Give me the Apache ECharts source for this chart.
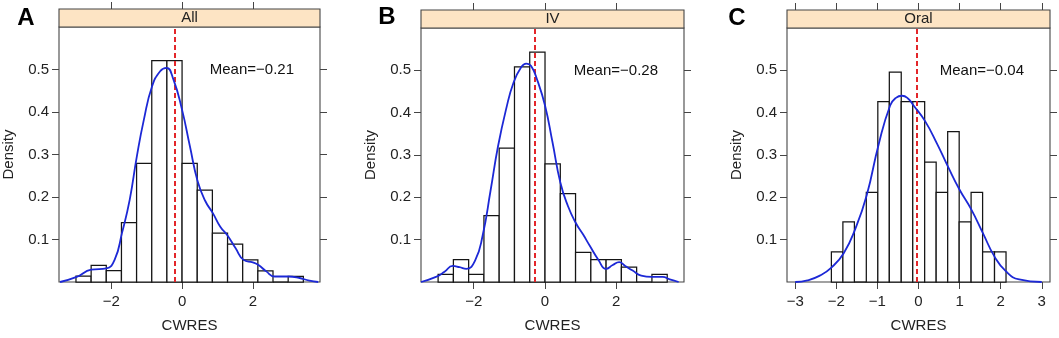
<!DOCTYPE html>
<html>
<head>
<meta charset="utf-8">
<script src="https://cdn.jsdelivr.net/npm/echarts@6/dist/echarts.min.js"></script>
<style>
html, body { margin: 0; padding: 0; background: #fff; }
#chart { width: 1059px; height: 338px; }
</style>
</head>
<body>
<div id="chart"></div>
<script>
// ---- data ----
const panelLetters = ['A', 'B', 'C']
const stripLabels = ['All', 'IV', 'Oral']
const means = [-0.21, -0.28, -0.04]

// histogram breaks (All and IV share the same breaks)
const edgesAllIV = [-3.0, -2.571, -2.143, -1.714, -1.286, -0.857, -0.429, 0, 0.429, 0.857, 1.286, 1.714, 2.143, 2.571, 3.0, 3.429]
const edgesOral = [-2.12, -1.84, -1.56, -1.27, -0.99, -0.71, -0.42, -0.14, 0.15, 0.43, 0.71, 0.99, 1.28, 1.56, 1.85, 2.13]

// bar heights (density)
const heightsAll = [0.014, 0.039, 0.027, 0.140, 0.279, 0.521, 0.521, 0.279, 0.216, 0.115, 0.089, 0.052, 0.026, 0, 0.013]
const heightsIV = [0.018, 0.053, 0.018, 0.157, 0.316, 0.508, 0.543, 0.279, 0.209, 0.070, 0.053, 0.053, 0.035, 0, 0.018]
const heightsOral = [0.071, 0.142, 0, 0.212, 0.426, 0.496, 0.426, 0.426, 0.283, 0.212, 0.355, 0.142, 0.212, 0.071, 0.071]

// kernel density curves [x, density]
const densityAll = [
  [-3.45, 0], [-2.98, 0.012], [-2.57, 0.029], [-2.14, 0.032], [-1.90, 0.054], [-1.70, 0.115],
  [-1.48, 0.194], [-1.28, 0.295], [-1.08, 0.382], [-0.85, 0.46], [-0.62, 0.496], [-0.44, 0.504],
  [-0.25, 0.478], [0, 0.405], [0.22, 0.32], [0.44, 0.237], [0.66, 0.19], [0.87, 0.162],
  [1.08, 0.130], [1.28, 0.110], [1.51, 0.080], [1.74, 0.052], [2.0, 0.046], [2.16, 0.040],
  [2.38, 0.025], [2.62, 0.013], [3.0, 0.013], [3.3, 0.010], [3.6, 0.003], [3.85, 0]
]
const densityIV = [
  [-3.48, 0], [-3.06, 0.012], [-2.82, 0.024], [-2.59, 0.038], [-2.40, 0.035], [-2.21, 0.031],
  [-1.96, 0.051], [-1.75, 0.11], [-1.53, 0.215], [-1.32, 0.32], [-1.09, 0.409], [-0.88, 0.472],
  [-0.67, 0.507], [-0.53, 0.516], [-0.39, 0.51], [-0.21, 0.475], [0, 0.417], [0.21, 0.33],
  [0.43, 0.235], [0.64, 0.18], [0.86, 0.14], [1.07, 0.112], [1.26, 0.085], [1.50, 0.052],
  [1.71, 0.031], [1.90, 0.040], [2.08, 0.047], [2.25, 0.038], [2.46, 0.027], [2.70, 0.015],
  [3.0, 0.012], [3.30, 0.012], [3.50, 0.006], [3.75, 0]
]
const densityOral = [
  [-3.0, 0], [-2.7, 0.004], [-2.4, 0.015], [-2.12, 0.034], [-1.82, 0.068], [-1.54, 0.125],
  [-1.26, 0.205], [-0.97, 0.325], [-0.69, 0.417], [-0.55, 0.435], [-0.40, 0.440], [-0.25, 0.433],
  [-0.12, 0.417], [0.16, 0.38], [0.45, 0.327], [0.72, 0.272], [1.0, 0.218], [1.28, 0.172],
  [1.57, 0.115], [1.85, 0.060], [2.13, 0.025], [2.45, 0.006], [3.0, 0]
]

const xTicksAllIV = [-2, 0, 2]
const xTicksOral = [-3, -2, -1, 0, 1, 2, 3]
const yTicks = [0.1, 0.2, 0.3, 0.4, 0.5]

// ---- layout ----
const panels = [
  { edges: edgesAllIV, heights: heightsAll, density: densityAll, xTicks: xTicksAllIV, xMin: -3.48, xMax: 3.9,
    left: 59, top: 27, width: 261, height: 255, letterX: 26, letterY: 18 },
  { edges: edgesAllIV, heights: heightsIV, density: densityIV, xTicks: xTicksAllIV, xMin: -3.48, xMax: 3.9,
    left: 421, top: 28, width: 263, height: 257, letterX: 387, letterY: 17 },
  { edges: edgesOral, heights: heightsOral, density: densityOral, xTicks: xTicksOral, xMin: -3.2, xMax: 3.2,
    left: 787, top: 28, width: 263, height: 258, letterX: 737, letterY: 18 }
]
const stripH = 18
const font = 'Liberation Sans, Arial, sans-serif'
const boxColor = '#454545'
const textColor = '#222222'

const fmt = (v) => (v < 0 ? '\u2212' + Math.abs(v) : String(v))

const histItem = (params, api) => {
  const p0 = api.coord([api.value(0), api.value(2)])
  const p1 = api.coord([api.value(1), 0])
  return {
    type: 'rect',
    shape: { x: p0[0], y: p0[1], width: p1[0] - p0[0], height: p1[1] - p0[1] },
    style: { fill: '#ffffff', stroke: '#151515', lineWidth: 1.25 }
  }
}

const grid = []
const xAxis = []
const yAxis = []
const series = []
const graphic = []

panels.forEach((p, i) => {
  grid.push({ left: p.left, top: p.top, width: p.width, height: p.height,
    show: true, borderColor: boxColor, borderWidth: 1.1, backgroundColor: 'transparent' })

  const tickStyle = { show: true, inside: false, length: 7, lineStyle: { color: boxColor, width: 1 } }
  const noLine = { show: false, onZero: false }
  xAxis.push({
    type: 'value', gridIndex: i, position: 'bottom', min: p.xMin, max: p.xMax,
    axisLine: noLine, splitLine: { show: false },
    axisTick: Object.assign({ customValues: p.xTicks }, tickStyle),
    axisLabel: { customValues: p.xTicks, formatter: fmt, margin: 12, fontSize: 15, fontFamily: font, color: textColor },
    name: 'CWRES', nameLocation: 'middle', nameGap: 36,
    nameTextStyle: { fontSize: 15, fontFamily: font, color: textColor }
  })
  xAxis.push({
    type: 'value', gridIndex: i, position: 'top', offset: stripH, min: p.xMin, max: p.xMax,
    axisLine: noLine, splitLine: { show: false },
    axisTick: Object.assign({ customValues: p.xTicks }, tickStyle),
    axisLabel: { show: false }
  })
  yAxis.push({
    type: 'value', gridIndex: i, position: 'left', min: 0, max: 0.6,
    axisLine: noLine, splitLine: { show: false },
    axisTick: Object.assign({ customValues: yTicks }, tickStyle),
    axisLabel: { customValues: yTicks, margin: 10, fontSize: 15, fontFamily: font, color: textColor },
    name: 'Density', nameLocation: 'middle', nameGap: 43,
    nameTextStyle: { fontSize: 15, fontFamily: font, color: textColor }
  })
  yAxis.push({
    type: 'value', gridIndex: i, position: 'right', min: 0, max: 0.6,
    axisLine: noLine, splitLine: { show: false },
    axisTick: Object.assign({ customValues: yTicks }, tickStyle),
    axisLabel: { show: false }
  })

  const bars = p.heights.map((h, k) => [p.edges[k], p.edges[k + 1], h])
  series.push({
    type: 'custom', xAxisIndex: 2 * i, yAxisIndex: 2 * i, renderItem: histItem,
    data: bars, z: 2, silent: true
  })
  series.push({
    type: 'line', xAxisIndex: 2 * i, yAxisIndex: 2 * i, data: p.density,
    smooth: 0.5, showSymbol: false, z: 4, silent: true,
    lineStyle: { color: '#1c28d6', width: 1.8 },
    markLine: {
      silent: true, symbol: 'none', label: { show: false }, z: 3,
      lineStyle: { color: '#e3262a', type: [5, 3], width: 2 },
      data: [{ xAxis: means[i] }]
    }
  })

  // strip
  graphic.push({
    type: 'rect', z: 10,
    shape: { x: p.left, y: p.top - stripH, width: p.width, height: stripH },
    style: { fill: '#fde4c4', stroke: boxColor, lineWidth: 1.1 }
  })
  graphic.push({
    type: 'text', z: 11, x: p.left + p.width / 2, y: p.top - stripH / 2,
    style: { text: stripLabels[i], font: '15px ' + font, fill: textColor,
      align: 'center', verticalAlign: 'middle', textAlign: 'center', textVerticalAlign: 'middle' }
  })
  // panel letter
  graphic.push({
    type: 'text', z: 11, x: p.letterX, y: p.letterY,
    style: { text: panelLetters[i], font: 'bold 24px ' + font, fill: '#000',
      align: 'center', verticalAlign: 'middle', textAlign: 'center', textVerticalAlign: 'middle' }
  })
  // mean annotation
  graphic.push({
    type: 'text', z: 11, x: p.left + p.width - 26, y: p.top + 43,
    style: { text: 'Mean=' + fmt(means[i]), font: '15px ' + font, fill: '#111',
      align: 'right', verticalAlign: 'middle', textAlign: 'right', textVerticalAlign: 'middle' }
  })
})

const chart = echarts.init(document.getElementById('chart'))
chart.setOption({
  animation: false,
  grid: grid,
  xAxis: xAxis,
  yAxis: yAxis,
  series: series,
  graphic: graphic
})
</script>
</body>
</html>
